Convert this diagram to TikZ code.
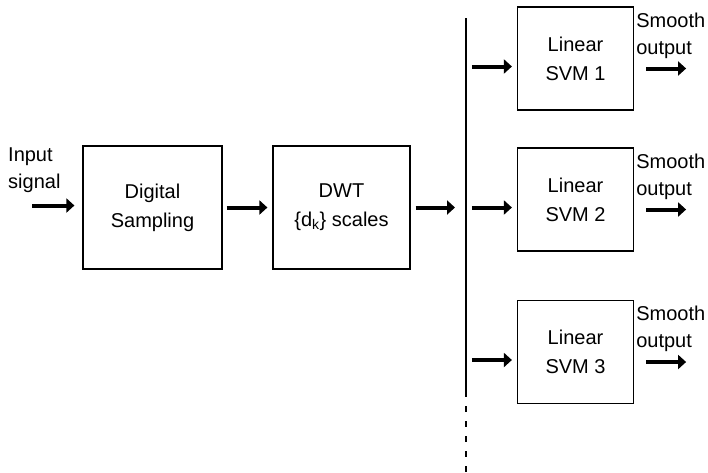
\documentclass[tikz,border=0pt]{standalone}
\usepackage{fontspec}
\setmainfont{Liberation Sans}
\usetikzlibrary{arrows.meta}
\usetikzlibrary{calc}

\tikzset{
	block/.style={draw, line width=1.2pt, align=center, inner sep=2pt, font=\fontsize{20}{29}\selectfont},
	lbl/.style={align=left, inner sep=0pt, font=\fontsize{20}{27}\selectfont},
	fatarrow/.style={line width=4pt, -{Triangle[length=8pt,width=14pt]}},
}

\newcommand{\svmstage}[3] % node name, y of centre in px, SVM number
{
	% classifier box
	\node[block, minimum width=116pt, minimum height=103pt] (#1) at (575.5,#2) {Linear\\SVM #3};
	% feed from the bus
	\draw[fatarrow] ([xshift=-45,yshift=-8]#1.west) -- ([xshift=-5,yshift=-8]#1.west);
	% result
	\node[lbl, anchor=north west] (#1out) at ([xshift=2,yshift=-6]#1.north east) {Smooth\\output};
	\draw[fatarrow] ([xshift=12,yshift=-10]#1.east) -- ([xshift=52,yshift=-10]#1.east);
}

\begin{document}
\begin{tikzpicture}[x=1pt, y=-1pt]
	% 708 x 472 px, y grows downwards
	\useasboundingbox (0,0) rectangle (708,472);
	
	% front end
	\node[lbl, anchor=south west] (insig) at (8,193) {Input\\signal};
	\node[block, minimum width=139pt, minimum height=123pt] (ds) at (152.5,207.5) {Digital\\Sampling};
	\node[block, minimum width=137pt, minimum height=123pt] (dwt) at (341.5,207.5) {DWT\\\{d\textsubscript{k}\} scales};
	\draw[fatarrow] ([xshift=-50,yshift=2]ds.west) -- ([xshift=-8,yshift=2]ds.west);
	\draw[fatarrow] ([xshift=4]ds.east) -- ([xshift=-5]dwt.west);
	
	% bus line
	\coordinate (bustop) at (466,18);
	\coordinate (busmid) at (466,397);
	\coordinate (busgap) at (466,406);
	\coordinate (busend) at (466,472);
	\draw[line width=1.2pt] (bustop) -- (busmid);
	\draw[line width=1.2pt, dash pattern=on 6pt off 9pt] (busgap) -- (busend);
	\draw[fatarrow] ([xshift=5]dwt.east) -- ([xshift=-11]dwt.east -| bustop);
	
	% one stage per scale
	\svmstage{svm1}{58.5}{1};
	\svmstage{svm2}{199.5}{2};
	\svmstage{svm3}{352}{3};
\end{tikzpicture}
\end{document}
